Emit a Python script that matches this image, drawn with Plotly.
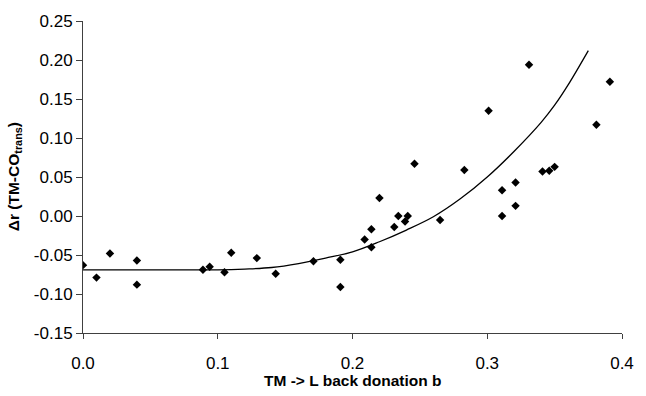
import plotly.graph_objects as go

# scatter data: TM -> L back donation b vs delta r (TM-CO trans)
b_values = [0.000, 0.010, 0.020, 0.040, 0.040, 0.089, 0.094, 0.105, 0.110, 0.129,
            0.143, 0.171, 0.191, 0.191, 0.209, 0.214, 0.214, 0.220, 0.231, 0.234,
            0.239, 0.241, 0.246, 0.265, 0.283, 0.301, 0.311, 0.311, 0.321, 0.321,
            0.331, 0.341, 0.346, 0.350, 0.381, 0.391]
dr_values = [-0.063, -0.079, -0.048, -0.057, -0.088, -0.069, -0.065, -0.072, -0.047, -0.054,
             -0.074, -0.058, -0.056, -0.091, -0.030, -0.040, -0.017, 0.023, -0.014, 0.000,
             -0.007, 0.000, 0.067, -0.005, 0.059, 0.135, 0.033, 0.000, 0.043, 0.013,
             0.194, 0.057, 0.058, 0.063, 0.117, 0.172]

# trend curve
curve_b = [0.00, 0.05, 0.10, 0.12, 0.14, 0.16, 0.18, 0.20, 0.22, 0.24, 0.26, 0.28,
           0.30, 0.32, 0.34, 0.35, 0.36, 0.375]
curve_dr = [-0.069, -0.069, -0.069, -0.068, -0.066, -0.061, -0.054, -0.046, -0.033, -0.018,
            -0.001, 0.022, 0.050, 0.083, 0.120, 0.142, 0.168, 0.212]

x_ticks = [0.0, 0.1, 0.2, 0.3, 0.4]
x_tick_labels = ["0.0", "0.1", "0.2", "0.3", "0.4"]
y_ticks = [-0.15, -0.10, -0.05, 0.00, 0.05, 0.10, 0.15, 0.20, 0.25]
y_tick_labels = ["-0.15", "-0.10", "-0.05", "0.00", "0.05", "0.10", "0.15", "0.20", "0.25"]

FONT = "Liberation Sans, Arial, sans-serif"

fig = go.Figure()
fig.add_trace(go.Scatter(x=curve_b, y=curve_dr, mode="lines",
                         line=dict(color="black", width=1.3, shape="spline"),
                         hoverinfo="skip", showlegend=False))
fig.add_trace(go.Scatter(x=b_values, y=dr_values, mode="markers",
                         marker=dict(symbol="diamond", size=6.5, color="black"),
                         showlegend=False))

fig.update_layout(
    width=646, height=396,
    margin=dict(l=83, r=15, t=19, b=63),
    paper_bgcolor="white", plot_bgcolor="white",
    font=dict(family=FONT, color="black", size=17),
    xaxis=dict(range=[0, 0.4], tickvals=x_ticks, ticktext=x_tick_labels,
               showgrid=False, zeroline=False, showline=True, linecolor="#404040",
               linewidth=1, ticks="outside", ticklen=5, tickcolor="#404040",
               tickfont=dict(size=17, family=FONT), ticklabelstandoff=10),
    yaxis=dict(range=[-0.15, 0.25], tickvals=y_ticks, ticktext=y_tick_labels,
               showgrid=False, zeroline=False, showline=True, linecolor="#404040",
               linewidth=1, ticks="outside", ticklen=6, tickcolor="#404040",
               tickfont=dict(size=17, family=FONT)),
    annotations=[
        dict(text="<b>TM -> L back donation b</b>", xref="paper", yref="paper",
             x=0.5, y=-48/314, xanchor="center", yanchor="middle", showarrow=False,
             font=dict(size=15.5, family=FONT)),
        dict(text="<b>Δr (TM-CO<sub>trans</sub>)</b>", xref="paper", yref="paper",
             x=-70/548, y=0.5, xanchor="center", yanchor="middle",
             textangle=-90, showarrow=False, font=dict(size=15.5, family=FONT)),
    ],
)

fig.write_html("out.html")
